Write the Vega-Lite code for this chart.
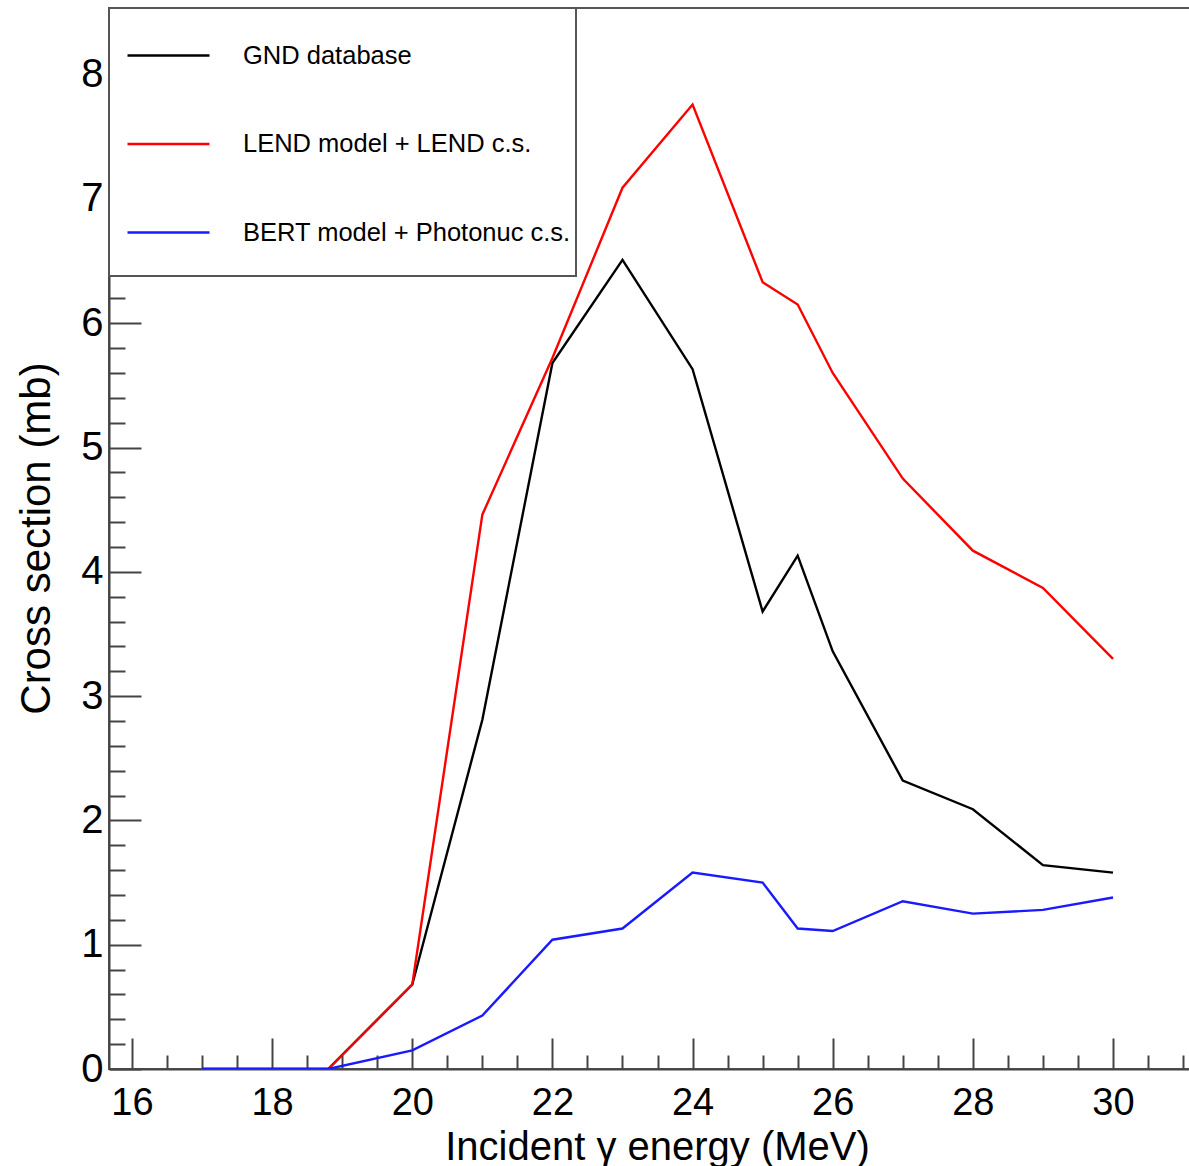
{
  "$schema": "https://vega.github.io/schema/vega-lite/v6.json",
  "width": 1082,
  "height": 1061,
  "autosize": "none",
  "padding": {"left": 109, "top": 8, "right": 0, "bottom": 97},
  "background": "white",
  "config": {
    "view": {"stroke": "#555555", "strokeWidth": 2},
    "font": "Liberation Sans",
    "legend": {"strokeWidth": 2}
  },
  "data": {
    "values": [
      {"E": 17, "cs": 0, "series": "GND database"},
      {"E": 18, "cs": 0, "series": "GND database"},
      {"E": 18.8, "cs": 0, "series": "GND database"},
      {"E": 20, "cs": 0.68, "series": "GND database"},
      {"E": 21, "cs": 2.81, "series": "GND database"},
      {"E": 22, "cs": 5.68, "series": "GND database"},
      {"E": 23, "cs": 6.51, "series": "GND database"},
      {"E": 24, "cs": 5.63, "series": "GND database"},
      {"E": 25, "cs": 3.68, "series": "GND database"},
      {"E": 25.5, "cs": 4.13, "series": "GND database"},
      {"E": 26, "cs": 3.36, "series": "GND database"},
      {"E": 27, "cs": 2.32, "series": "GND database"},
      {"E": 28, "cs": 2.09, "series": "GND database"},
      {"E": 29, "cs": 1.64, "series": "GND database"},
      {"E": 30, "cs": 1.58, "series": "GND database"},
      {"E": 17, "cs": 0, "series": "LEND model + LEND c.s."},
      {"E": 18, "cs": 0, "series": "LEND model + LEND c.s."},
      {"E": 18.8, "cs": 0, "series": "LEND model + LEND c.s."},
      {"E": 20, "cs": 0.68, "series": "LEND model + LEND c.s."},
      {"E": 21, "cs": 4.46, "series": "LEND model + LEND c.s."},
      {"E": 22, "cs": 5.72, "series": "LEND model + LEND c.s."},
      {"E": 23, "cs": 7.09, "series": "LEND model + LEND c.s."},
      {"E": 24, "cs": 7.76, "series": "LEND model + LEND c.s."},
      {"E": 25, "cs": 6.33, "series": "LEND model + LEND c.s."},
      {"E": 25.5, "cs": 6.15, "series": "LEND model + LEND c.s."},
      {"E": 26, "cs": 5.6, "series": "LEND model + LEND c.s."},
      {"E": 27, "cs": 4.75, "series": "LEND model + LEND c.s."},
      {"E": 28, "cs": 4.17, "series": "LEND model + LEND c.s."},
      {"E": 29, "cs": 3.87, "series": "LEND model + LEND c.s."},
      {"E": 30, "cs": 3.3, "series": "LEND model + LEND c.s."},
      {"E": 17, "cs": 0, "series": "BERT model + Photonuc c.s."},
      {"E": 18, "cs": 0, "series": "BERT model + Photonuc c.s."},
      {"E": 18.8, "cs": 0, "series": "BERT model + Photonuc c.s."},
      {"E": 20, "cs": 0.15, "series": "BERT model + Photonuc c.s."},
      {"E": 21, "cs": 0.43, "series": "BERT model + Photonuc c.s."},
      {"E": 22, "cs": 1.04, "series": "BERT model + Photonuc c.s."},
      {"E": 23, "cs": 1.13, "series": "BERT model + Photonuc c.s."},
      {"E": 24, "cs": 1.58, "series": "BERT model + Photonuc c.s."},
      {"E": 25, "cs": 1.5, "series": "BERT model + Photonuc c.s."},
      {"E": 25.5, "cs": 1.13, "series": "BERT model + Photonuc c.s."},
      {"E": 26, "cs": 1.11, "series": "BERT model + Photonuc c.s."},
      {"E": 27, "cs": 1.35, "series": "BERT model + Photonuc c.s."},
      {"E": 28, "cs": 1.25, "series": "BERT model + Photonuc c.s."},
      {"E": 29, "cs": 1.28, "series": "BERT model + Photonuc c.s."},
      {"E": 30, "cs": 1.38, "series": "BERT model + Photonuc c.s."}
    ]
  },
  "layer": [
    {
      "mark": {"type": "line", "strokeOpacity": 0, "clip": true},
      "encoding": {
        "x": {
          "field": "E",
          "type": "quantitative",
          "scale": {"domain": [15.672, 31.113], "nice": false, "zero": false},
          "axis": {
            "orient": "bottom",
            "values": [16.5, 17, 17.5, 18.5, 19, 19.5, 20.5, 21, 21.5, 22.5, 23, 23.5, 24.5, 25, 25.5, 26.5, 27, 27.5, 28.5, 29, 29.5, 30.5, 31],
            "labels": false,
            "domain": false,
            "grid": false,
            "tickSize": -14,
            "tickColor": "#444444",
            "tickWidth": 2,
            "title": null
          }
        },
        "y": {
          "field": "cs",
          "type": "quantitative",
          "scale": {"domain": [0, 8.536], "nice": false, "zero": false},
          "axis": {
            "orient": "left",
            "values": [0.2, 0.4, 0.6, 0.8, 1.2, 1.4, 1.6, 1.8, 2.2, 2.4, 2.6, 2.8, 3.2, 3.4, 3.6, 3.8, 4.2, 4.4, 4.6, 4.8, 5.2, 5.4, 5.6, 5.8, 6.2, 6.4, 6.6, 6.8, 7.2, 7.4, 7.6, 7.8, 8.2, 8.4],
            "labels": false,
            "domain": false,
            "grid": false,
            "tickSize": -16,
            "tickColor": "#444444",
            "tickWidth": 2,
            "title": null
          }
        },
        "detail": {"field": "series"}
      }
    },
    {
      "mark": {"type": "line", "strokeWidth": 2.4, "clip": true},
      "encoding": {
        "x": {
          "field": "E",
          "type": "quantitative",
          "scale": {"domain": [15.672, 31.113], "nice": false, "zero": false},
          "axis": {
            "orient": "bottom",
            "values": [16, 18, 20, 22, 24, 26, 28, 30],
            "tickSize": -31,
            "tickColor": "#444444",
            "tickWidth": 2,
            "domainColor": "#444444",
            "domainWidth": 2,
            "grid": false,
            "labelFontSize": 38,
            "labelColor": "black",
            "labelPadding": 46,
            "labelFlush": false,
            "labelOverlap": false,
            "title": "Incident γ energy (MeV)",
            "titleFontSize": 40,
            "titleFontWeight": "normal",
            "titleColor": "black",
            "titleX": 548,
            "titleY": 90,
            "titleAlign": "center",
            "titleBaseline": "alphabetic"
          }
        },
        "y": {
          "field": "cs",
          "type": "quantitative",
          "scale": {"domain": [0, 8.536], "nice": false, "zero": false},
          "axis": {
            "orient": "left",
            "values": [0, 1, 2, 3, 4, 5, 6, 7, 8],
            "tickSize": -32,
            "tickColor": "#444444",
            "tickWidth": 2,
            "domainColor": "#444444",
            "domainWidth": 2,
            "grid": false,
            "labelFontSize": 40,
            "labelColor": "black",
            "labelPadding": 38,
            "labelFlush": false,
            "labelOverlap": false,
            "title": "Cross section (mb)",
            "titleFontSize": 42,
            "titleFontWeight": "normal",
            "titleColor": "black",
            "titleAngle": -90,
            "titleX": -60,
            "titleY": 530,
            "titleAlign": "center",
            "titleBaseline": "alphabetic"
          }
        },
        "color": {
          "field": "series",
          "type": "nominal",
          "sort": ["GND database", "LEND model + LEND c.s.", "BERT model + Photonuc c.s."],
          "scale": {
            "domain": ["GND database", "LEND model + LEND c.s.", "BERT model + Photonuc c.s."],
            "range": ["#000000", "#ff0000", "#1a1aff"]
          },
          "legend": {
            "orient": "none",
            "legendX": 0,
            "legendY": 0,
            "title": " ",
            "titleOrient": "bottom",
            "titleFontSize": 20,
            "titlePadding": 5,
            "symbolType": "stroke",
            "symbolSize": 6724,
            "symbolStrokeWidth": 2.4,
            "symbolOffset": 12,
            "labelFontSize": 25.5,
            "labelColor": "black",
            "labelOffset": 32,
            "labelLimit": 0,
            "fillColor": "white",
            "strokeColor": "#555555",
            "padding": 5,
            "rowPadding": 32.5
          }
        }
      }
    }
  ],
  "resolve": {"axis": {"x": "independent", "y": "independent"}}
}
